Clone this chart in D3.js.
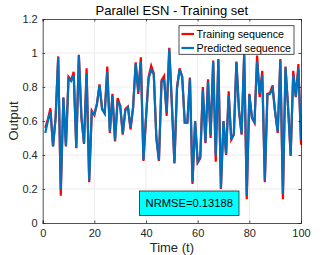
<!DOCTYPE html>
<html>
<head>
<meta charset="utf-8">
<script src="https://cdn.jsdelivr.net/npm/d3@7"></script>
<style>
  body { margin: 0; background: #fff; }
  svg { display: block; font-family: "Liberation Sans", Arial, sans-serif; }
</style>
</head>
<body>
<div id="chart"></div>
<script>
// values, t = 1..100
const training = [
  0.56, 0.61, 0.675, 0.45, 0.62, 0.98, 0.16, 0.74, 0.45, 0.86,
  0.84, 0.89, 0.44, 0.99, 0.62, 0.465, 0.91, 0.24, 0.66, 0.635,
  0.70, 0.815, 0.67, 0.645, 0.92, 0.53, 0.76, 0.48, 0.735, 0.69,
  0.52, 0.67, 0.685, 0.55, 0.68, 0.945, 0.76, 0.975, 0.365, 0.62,
  0.86, 0.925, 0.88, 0.50, 0.365, 0.84, 0.865, 0.63, 1.03, 0.70,
  0.35, 0.80, 0.91, 0.86, 0.59, 0.59, 0.855, 0.23, 0.60, 0.355,
  0.38, 0.80, 0.47, 0.845, 0.50, 0.955, 0.36, 0.965, 0.20, 0.60,
  0.40, 0.775, 0.49, 0.52, 0.95, 0.66, 0.52, 1.00, 0.14, 0.76,
  0.62, 0.59, 0.985, 0.74, 0.895, 0.24, 0.76, 0.765, 0.81, 0.65,
  0.53, 0.965, 0.14, 0.92, 0.68, 0.395, 0.895, 0.74, 0.935, 0.46
];
const predicted = [
  0.53, 0.60, 0.655, 0.45, 0.62, 0.975, 0.195, 0.735, 0.455, 0.85,
  0.835, 0.87, 0.445, 0.985, 0.62, 0.47, 0.88, 0.25, 0.655, 0.64,
  0.70, 0.81, 0.67, 0.645, 0.89, 0.54, 0.75, 0.485, 0.71, 0.69,
  0.525, 0.665, 0.68, 0.56, 0.68, 0.94, 0.775, 0.95, 0.37, 0.62,
  0.85, 0.90, 0.875, 0.50, 0.37, 0.83, 0.84, 0.65, 1.025, 0.70,
  0.355, 0.79, 0.90, 0.86, 0.59, 0.59, 0.85, 0.24, 0.60, 0.36,
  0.39, 0.78, 0.475, 0.83, 0.52, 0.95, 0.40, 0.96, 0.205, 0.60,
  0.405, 0.75, 0.49, 0.525, 0.945, 0.66, 0.525, 0.99, 0.16, 0.755,
  0.62, 0.595, 0.95, 0.76, 0.87, 0.25, 0.755, 0.76, 0.79, 0.65,
  0.535, 0.955, 0.17, 0.915, 0.68, 0.40, 0.87, 0.745, 0.91, 0.49
];
const time = d3.range(1, training.length + 1);
const xTicks = [0, 20, 40, 60, 80, 100];
const yTicks = [0, 0.2, 0.4, 0.6, 0.8, 1, 1.2];
const seriesNames = ["Training sequence", "Predicted sequence"];
const seriesColors = ["#ff0000", "#0072bd"];
const nrmseLabel = "NRMSE=0.13188";

const W = 332, H = 255;
const margin = {top: 19, right: 31, bottom: 32, left: 42.7};
const width = W - margin.left - margin.right,
  height = H - margin.top - margin.bottom;

const svg = d3.select("#chart").append("svg")
  .attr("width", W)
  .attr("height", H);

const g = svg.append("g")
  .attr("transform", `translate(${margin.left},${margin.top})`);

const x = d3.scaleLinear().domain([0, 100]).range([0, width]);
const y = d3.scaleLinear().domain([0, 1.2]).range([height, 0]);

// grid
g.append("g").selectAll("line").data(xTicks.slice(1, -1)).join("line")
  .attr("x1", d => x(d)).attr("x2", d => x(d))
  .attr("y1", 0).attr("y2", height)
  .attr("stroke", "#ebebeb").attr("stroke-width", 1);
g.append("g").selectAll("line").data(yTicks.slice(1, -1)).join("line")
  .attr("x1", 0).attr("x2", width)
  .attr("y1", d => y(d)).attr("y2", d => y(d))
  .attr("stroke", "#ebebeb").attr("stroke-width", 1);

// lines
const line = d3.line()
  .x((d, i) => x(time[i]))
  .y(d => y(d));

g.append("path")
  .datum(training)
  .attr("d", line)
  .attr("fill", "none")
  .attr("stroke", seriesColors[0])
  .attr("stroke-width", 2.2)
  .attr("stroke-linejoin", "miter");

g.append("path")
  .datum(predicted)
  .attr("d", line)
  .attr("fill", "none")
  .attr("stroke", seriesColors[1])
  .attr("stroke-width", 2.2)
  .attr("stroke-linejoin", "miter");

// axes
const axisColor = "#262626";
g.append("g")
  .attr("transform", `translate(0,${height})`)
  .call(d3.axisBottom(x).tickValues(xTicks).tickSize(-2.5).tickPadding(6).tickFormat(d3.format("d")));
g.append("g")
  .call(d3.axisLeft(y).tickValues(yTicks).tickSize(-2.5).tickPadding(5).tickFormat(d => d3.format("~g")(d)));
g.append("g")
  .call(d3.axisTop(x).tickValues(xTicks).tickSize(-2.5).tickFormat(""));
g.append("g")
  .attr("transform", `translate(${width},0)`)
  .call(d3.axisRight(y).tickValues(yTicks).tickSize(-2.5).tickFormat(""));

g.selectAll(".domain").attr("stroke", axisColor).attr("stroke-width", 0.8);
g.selectAll(".tick line").attr("stroke", axisColor).attr("stroke-width", 0.8);
g.selectAll(".tick text")
  .attr("fill", axisColor)
  .style("font-size", "11px")
  .style("font-family", "Liberation Sans, Arial, sans-serif");

// labels
svg.append("text")
  .attr("x", margin.left + width / 2)
  .attr("y", 14.5)
  .attr("text-anchor", "middle")
  .attr("fill", "#000")
  .style("font-size", "13px")
  .text("Parallel ESN - Training set");

svg.append("text")
  .attr("x", margin.left + width / 2)
  .attr("y", 251.5)
  .attr("text-anchor", "middle")
  .attr("fill", axisColor)
  .style("font-size", "13px")
  .text("Time (t)");

svg.append("text")
  .attr("transform", `translate(18,${margin.top + height / 2}) rotate(-90)`)
  .attr("text-anchor", "middle")
  .attr("fill", axisColor)
  .style("font-size", "13px")
  .text("Output");

// legend
const legend = svg.append("g").attr("transform", "translate(179,25.7)");
legend.append("rect")
  .attr("width", 115).attr("height", 28.6)
  .attr("fill", "#fff")
  .attr("stroke", axisColor).attr("stroke-width", 0.8);
seriesNames.forEach((name, i) => {
  const row = legend.append("g").attr("transform", `translate(0,${8.3 + i * 14})`);
  row.append("line")
    .attr("x1", 2.5).attr("x2", 15)
    .attr("stroke", seriesColors[i]).attr("stroke-width", 2.2);
  row.append("text")
    .attr("x", 17.5).attr("y", 3.8)
    .attr("fill", "#000")
    .style("font-size", "10.7px")
    .text(name);
});

// NRMSE box
const box = svg.append("g").attr("transform", "translate(139.5,191)");
box.append("rect")
  .attr("width", 99.5).attr("height", 24.5)
  .attr("fill", "#00ffff")
  .attr("stroke", axisColor).attr("stroke-width", 0.8);
box.append("text")
  .attr("x", 49.75).attr("y", 16.3)
  .attr("text-anchor", "middle")
  .attr("fill", "#000")
  .style("font-size", "11.2px")
  .text(nrmseLabel);
</script>
</body>
</html>
